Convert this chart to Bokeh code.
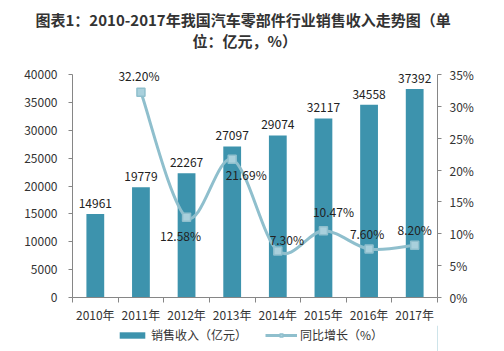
from bokeh.plotting import figure
from bokeh.layouts import column
from bokeh.models import (Range1d, LinearAxis, FixedTicker, Title, Legend, LegendItem,
                          ColumnDataSource, PrintfTickFormatter, LabelSet)
from bokeh.core.properties import value
from bokeh.embed import file_html
from bokeh.resources import INLINE

years = ["2010年", "2011年", "2012年", "2013年", "2014年", "2015年", "2016年", "2017年"]
revenue = [14961, 19779, 22267, 27097, 29074, 32117, 34558, 37392]
growth_years_idx = [1, 2, 3, 4, 5, 6, 7]
growth = [32.20, 12.58, 21.69, 7.30, 10.47, 7.60, 8.20]
growth_labels = ["32.20%", "12.58%", "21.69%", "7.30%", "10.47%", "7.60%", "8.20%"]
title_lines = ["图表1：2010-2017年我国汽车零部件行业销售收入走势图（单", "位：亿元，%）"]

FONT = "Noto Sans CJK SC"
BAR = "#3d93ad"
LINE = "#8fbfcd"
TXT = "#333333"

# frame runs from canvas y=52 to the x axis at y=297; 40000 sits at y=74
F_TOP, F_BOT, TOP_TICK = 52, 297, 74
YMAX = 40000 * (F_BOT - F_TOP) / (F_BOT - TOP_TICK)
PMAX = 35 * (F_BOT - F_TOP) / (F_BOT - TOP_TICK)

p = figure(width=504, height=325, output_backend="svg", toolbar_location=None,
           x_range=Range1d(-0.5, 7.5), y_range=Range1d(0, YMAX),
           min_border_left=72, min_border_right=67, min_border_top=F_TOP,
           min_border_bottom=325 - F_BOT)
p.outline_line_color = None
p.xgrid.visible = False
p.ygrid.visible = False
p.background_fill_color = "white"
p.border_fill_color = "white"
p.extra_y_ranges = {"pct": Range1d(0, PMAX)}

xs = list(range(len(years)))
p.vbar(x=xs, top=revenue, width=0.39, fill_color=BAR, line_color=None)

# smoothed line through the data points (Catmull-Rom -> cubic Bezier control points)
px = growth_years_idx
py = growth
n = len(px)
x0, y0, x1, y1, cx0, cy0, cx1, cy1 = [], [], [], [], [], [], [], []
for i in range(n - 1):
    pm = (px[i - 1], py[i - 1]) if i > 0 else (px[i], py[i])
    pa = (px[i], py[i])
    pb = (px[i + 1], py[i + 1])
    pn = (px[i + 2], py[i + 2]) if i + 2 < n else (px[i + 1], py[i + 1])
    x0.append(pa[0]); y0.append(pa[1]); x1.append(pb[0]); y1.append(pb[1])
    cx0.append(pa[0] + (pb[0] - pm[0]) / 6); cy0.append(pa[1] + (pb[1] - pm[1]) / 6)
    cx1.append(pb[0] - (pn[0] - pa[0]) / 6); cy1.append(pb[1] - (pn[1] - pa[1]) / 6)
p.bezier(x0=x0, y0=y0, x1=x1, y1=y1, cx0=cx0, cy0=cy0, cx1=cx1, cy1=cy1,
         line_color=LINE, line_width=3, y_range_name="pct")
p.scatter(x=px, y=py, marker="square", size=8, fill_color="#a9d0dc",
          line_color=LINE, line_width=1.5, y_range_name="pct")

# bar value labels
src_b = ColumnDataSource(dict(x=xs, y=revenue, t=[str(v) for v in revenue]))
p.add_layout(LabelSet(x="x", y="y", text="t", source=src_b, text_align="center",
                      text_baseline="bottom", y_offset=6, text_font=value(FONT),
                      text_font_size="12px", text_color="#222222"))

# growth labels
gx_off = [-2, -6, 14, 9, 10, -2, 0]
gy_off = [17, -18, -15, 11, 19, 16, 16]
src_g = ColumnDataSource(dict(x=px, y=py, t=growth_labels, xo=gx_off, yo=gy_off))
p.add_layout(LabelSet(x="x", y="y", text="t", source=src_g, y_range_name="pct",
                      x_offset="xo", y_offset="yo", text_align="center",
                      text_baseline="middle", text_font=value(FONT),
                      text_font_size="12px", text_color="#222222"))

AX = "#868686"
# x axis
xa = p.xaxis[0]
xa.ticker = FixedTicker(ticks=xs, minor_ticks=[i - 0.5 for i in range(len(years) + 1)])
xa.major_label_overrides = {i: y for i, y in enumerate(years)}
xa.major_tick_out = 0
xa.major_tick_in = 0
xa.minor_tick_out = 5
xa.minor_tick_in = 0
xa.minor_tick_line_color = AX
xa.axis_line_color = AX
xa.major_label_standoff = 3
xa.major_label_text_font = FONT
xa.major_label_text_font_size = "12px"
xa.major_label_text_color = TXT

# left axis
ya = p.yaxis[0]
ya.ticker = FixedTicker(ticks=list(range(0, 40001, 5000)))
ya.bounds = (0, 40000)
ya.major_tick_out = 4
ya.major_tick_in = 0
ya.minor_tick_out = 0
ya.minor_tick_in = 0
ya.axis_line_color = AX
ya.major_tick_line_color = AX
ya.major_label_standoff = 11
ya.major_label_text_font = FONT
ya.major_label_text_font_size = "12px"
ya.major_label_text_color = TXT

ra = LinearAxis(y_range_name="pct", ticker=FixedTicker(ticks=list(range(0, 36, 5))),
                formatter=PrintfTickFormatter(format="%d%%"), bounds=(0, 35))
ra.major_tick_out = 4
ra.major_tick_in = 0
ra.minor_tick_out = 0
ra.minor_tick_in = 0
ra.axis_line_color = AX
ra.major_tick_line_color = AX
ra.major_label_standoff = 8
ra.major_label_text_font = FONT
ra.major_label_text_font_size = "12px"
ra.major_label_text_color = TXT
p.add_layout(ra, "right")

# two-line title above the frame (second line added first: it sits nearer the frame)
p.add_layout(Title(text=title_lines[1], align="left", offset=120, standoff=0,
                   vertical_align="top",
                   text_font=FONT, text_font_size="15px", text_font_style="bold",
                   text_color=TXT), "above")
p.add_layout(Title(text=title_lines[0], align="left", offset=-37, standoff=0,
                   text_font=FONT, text_font_size="15px", text_font_style="bold",
                   text_color=TXT), "above")

# legend strip below the chart
lg = figure(width=504, height=26, output_backend="svg", toolbar_location=None,
            x_range=Range1d(0, 1), y_range=Range1d(0, 1),
            min_border_left=0, min_border_right=0, min_border_top=0, min_border_bottom=0)
lg.axis.visible = False
lg.grid.visible = False
lg.outline_line_color = None
lg.background_fill_color = "white"
lg.border_fill_color = "white"
r_bar = lg.vbar(x=[5], top=[5], width=0.1, fill_color=BAR, line_color=None)
r_line = lg.line(x=[5, 6], y=[5, 6], line_color=LINE, line_width=3)
r_mark = lg.scatter(x=[5], y=[5], marker="square", size=8, fill_color="#a9d0dc",
                    line_color=LINE, line_width=1.5)
legend = Legend(items=[LegendItem(label="销售收入（亿元）", renderers=[r_bar]),
                       LegendItem(label="同比增长（%）", renderers=[r_line, r_mark])],
                orientation="horizontal", location=(44, 8),
                glyph_width=32, glyph_height=8, label_standoff=3, spacing=18,
                padding=0, margin=0, border_line_color=None,
                label_text_font=FONT, label_text_font_size="12px",
                label_text_color=TXT, background_fill_alpha=0)
lg.add_layout(legend)

layout = column(p, lg, spacing=0)
open("out.html", "w").write(file_html(layout, INLINE))
